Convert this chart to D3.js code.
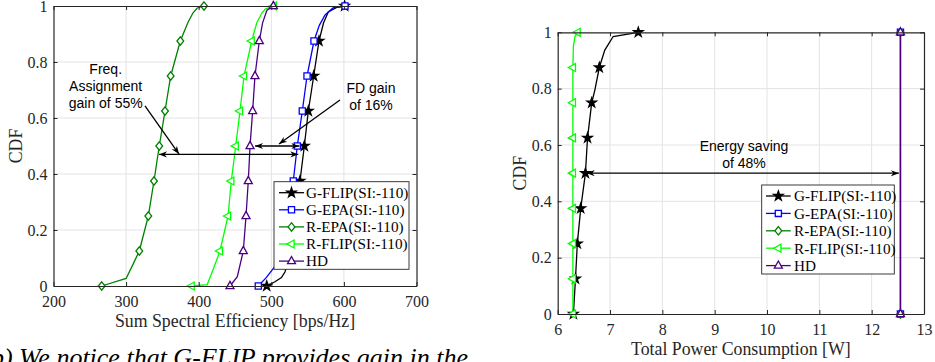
<!DOCTYPE html>
<html><head><meta charset="utf-8">
<script src="https://cdn.jsdelivr.net/npm/d3@7"></script>
<style>
html,body{margin:0;padding:0;background:#fff;}
svg{display:block;}
</style></head>
<body>
<svg id="chart" width="935" height="362"></svg>
<script>
// ---------------- DATA ----------------
const seriesNames = ["G-FLIP(SI:-110)", "G-EPA(SI:-110)", "R-EPA(SI:-110)", "R-FLIP(SI:-110)", "HD"];
const seriesColors = ["#000000", "#0000ff", "#008000", "#00ff00", "#4b0082"];
const seriesMarkers = ["star", "square", "diamond", "triangleLeft", "triangleUp"];
const markerLevels = [0, 0.125, 0.25, 0.375, 0.5, 0.625, 0.75, 0.875, 1];

// Left chart: Sum Spectral Efficiency [bps/Hz]
const leftGFLIP_x = [493.7, 505, 514, 519, 526, 532, 539.5, 545.5, 551, 558.4, 565.7, 572, 578.5, 590, 601];
const leftGFLIP_y = [0, 0.015, 0.03, 0.051, 0.125, 0.25, 0.375, 0.5, 0.625, 0.75, 0.875, 0.94, 0.979, 0.995, 1];
const leftGEPA_x = [482.1, 493, 505, 515, 524, 530.3, 535.8, 542.7, 549.2, 558.8, 566, 574, 585, 601.5];
const leftGEPA_y = [0, 0.03, 0.07, 0.125, 0.25, 0.375, 0.5, 0.625, 0.75, 0.875, 0.93, 0.968, 0.993, 1];
const leftREPA_x = [266.4, 300, 310, 318.2, 330.6, 338.4, 345.7, 353.6, 361.4, 374.7, 385, 392, 398, 407.3];
const leftREPA_y = [0, 0.027, 0.08, 0.125, 0.25, 0.375, 0.5, 0.625, 0.75, 0.875, 0.94, 0.975, 0.993, 1];
const leftRFLIP_x = [390.3, 411.8, 420, 429.3, 440.4, 444.9, 451, 456.9, 462.4, 473, 480, 487, 492, 503.5];
const leftRFLIP_y = [0, 0.005, 0.06, 0.125, 0.25, 0.375, 0.5, 0.625, 0.75, 0.875, 0.94, 0.975, 0.99, 1];
const leftHD_x = [443.1, 453.2, 461.4, 465.2, 468.3, 470.7, 474.3, 477.5, 483.5, 488, 494, 502.8];
const leftHD_y = [0, 0.033, 0.125, 0.25, 0.375, 0.5, 0.625, 0.75, 0.875, 0.94, 0.985, 1];

// Right chart: Total Power Consumption [W]
const rightGFLIP_x = [6.30, 6.34, 6.375, 6.44, 6.53, 6.57, 6.65, 6.71, 6.795, 6.90, 7.06, 7.54];
const rightGFLIP_y = [0, 0.125, 0.25, 0.375, 0.5, 0.625, 0.75, 0.795, 0.875, 0.937, 0.985, 1];
const rightGEPA_x = [12.55, 12.55];
const rightGEPA_y = [0, 1];
const rightREPA_x = [12.55, 12.55];
const rightREPA_y = [0, 1];
const rightRFLIP_x = [6.29, 6.29, 6.29, 6.29, 6.29, 6.29, 6.29, 6.29, 6.30, 6.33, 6.38];
const rightRFLIP_y = [0, 0.125, 0.25, 0.375, 0.5, 0.625, 0.75, 0.875, 0.95, 0.985, 1];
const rightHD_x = [12.55, 12.55];
const rightHD_y = [0, 1];

// Ticks
const leftXTicks = [200, 300, 400, 500, 600, 700];
const rightXTicks = [6, 7, 8, 9, 10, 11, 12, 13];
const yTicks = [0, 0.2, 0.4, 0.6, 0.8, 1];

// Labels / annotations
const leftXLabel = "Sum Spectral Efficiency [bps/Hz]";
const rightXLabel = "Total Power Consumption [W]";
const yLabel = "CDF";
const freqText = ["Freq.", "Assignment", "gain of 55%"];
const fdText = ["FD gain", "of 16%"];
const energyText = ["Energy saving", "of 48%"];
const captionText = "(b) We notice that G-FLIP provides gain in the";

// ---------------- DRAW ----------------
const svg = d3.select("#chart");
const SERIF = "'Liberation Serif','Times New Roman',serif";
const SANS = "'Liberation Sans',Arial,Helvetica,sans-serif";
const AXC = "#262626";

const defs = svg.append("defs");
defs.append("marker").attr("id", "ah").attr("viewBox", "0 0 10 10")
  .attr("refX", 10).attr("refY", 5).attr("markerWidth", 8).attr("markerHeight", 8)
  .attr("markerUnits", "userSpaceOnUse").attr("orient", "auto-start-reverse")
  .append("path").attr("d", "M0,1.2 L10,5 L0,8.8 L3,5 Z").attr("fill", "#000");

function markerPath(type) {
  if (type === "star") return d3.symbol(d3.symbolStar, 28)();
  if (type === "square") return d3.symbol(d3.symbolSquare, 38)();
  if (type === "diamond") return "M0,-4.2L3.4,0L0,4.2L-3.4,0Z";
  if (type === "triangleUp") return "M0,-4.6L4,2.6L-4,2.6Z";
  if (type === "triangleLeft") return "M-4.6,0L2.6,-4L2.6,4Z";
}

function drawPanel(cfg) {
  const x = d3.scaleLinear().domain(cfg.xDomain).range([cfg.left, cfg.right]);
  const y = d3.scaleLinear().domain([0, 1]).range([cfg.bottom, cfg.top]);
  const g = svg.append("g");

  g.append("rect").attr("x", cfg.left).attr("y", cfg.top)
    .attr("width", cfg.right - cfg.left).attr("height", cfg.bottom - cfg.top).attr("fill", "#fff");

  // grid
  g.append("g").selectAll("line").data(cfg.xTicks.slice(1, -1)).join("line")
    .attr("x1", d => x(d)).attr("x2", d => x(d)).attr("y1", cfg.top).attr("y2", cfg.bottom)
    .attr("stroke", "#e3e3e3").attr("stroke-width", 1);
  g.append("g").selectAll("line").data(yTicks.slice(1, -1)).join("line")
    .attr("y1", d => y(d)).attr("y2", d => y(d)).attr("x1", cfg.left).attr("x2", cfg.right)
    .attr("stroke", "#e3e3e3").attr("stroke-width", 1);

  // series
  const line = d3.line().x(d => x(d[0])).y(d => y(d[1]));
  cfg.series.forEach((s, i) => {
    const pts = s.xs.map((v, k) => [v, s.ys[k]]);
    g.append("path").datum(pts).attr("d", line).attr("fill", "none")
      .attr("stroke", seriesColors[i]).attr("stroke-width", 1.3);
    const mk = pts.filter(p => markerLevels.includes(p[1]) && (!s.onlyEnds || p[1] === 0 || p[1] === 1));
    g.append("g").selectAll("path").data(mk).join("path")
      .attr("transform", d => `translate(${x(d[0])},${y(d[1])})`)
      .attr("d", markerPath(seriesMarkers[i]))
      .attr("fill", seriesMarkers[i] === "star" ? seriesColors[i] : "#fff")
      .attr("stroke", seriesColors[i]).attr("stroke-width", 1.3);
  });

  // axes with inward ticks
  const tickFont = g2 => g2.selectAll("text").attr("font-family", SERIF).attr("font-size", 16).attr("fill", AXC);
  const styleAxis = a => { a.select(".domain").attr("stroke", AXC).attr("stroke-width", 1.2); a.selectAll(".tick line").attr("stroke", AXC); };
  const ax = g.append("g").attr("transform", `translate(0,${cfg.bottom})`)
    .call(d3.axisBottom(x).tickValues(cfg.xTicks).tickSize(-4).tickPadding(10).tickSizeOuter(0).tickFormat(d3.format("d")));
  styleAxis(ax); tickFont(ax);
  const axt = g.append("g").attr("transform", `translate(0,${cfg.top})`)
    .call(d3.axisTop(x).tickValues(cfg.xTicks).tickSize(-4).tickSizeOuter(0).tickFormat(""));
  styleAxis(axt);
  const ay = g.append("g").attr("transform", `translate(${cfg.left},0)`)
    .call(d3.axisLeft(y).tickValues(yTicks).tickSize(-4).tickPadding(6).tickSizeOuter(0).tickFormat(d => d === 0 || d === 1 ? d3.format("d")(d) : d3.format(".1f")(d)));
  styleAxis(ay); tickFont(ay);
  const ayr = g.append("g").attr("transform", `translate(${cfg.right},0)`)
    .call(d3.axisRight(y).tickValues(yTicks).tickSize(-4).tickSizeOuter(0).tickFormat(""));
  styleAxis(ayr);

  g.append("text").attr("x", (cfg.left + cfg.right) / 2).attr("y", cfg.xLabelY)
    .attr("text-anchor", "middle").attr("font-family", SERIF).attr("font-size", 17.8).attr("fill", AXC).text(cfg.xLabel);
  g.append("text").attr("transform", `translate(${cfg.yLabelX},${(cfg.top + cfg.bottom) / 2}) rotate(-90)`)
    .attr("text-anchor", "middle").attr("font-family", SERIF).attr("font-size", 17.8).attr("fill", AXC).text(yLabel);

  return { g, x, y };
}

function drawLegend(g, lx, ly, w, h, sampleX1, sampleX2, textX, rowY0, rowDy) {
  const lg = g.append("g");
  lg.append("rect").attr("x", lx).attr("y", ly).attr("width", w).attr("height", h)
    .attr("fill", "#fff").attr("stroke", AXC).attr("stroke-width", 0.9);
  seriesNames.forEach((n, i) => {
    const yy = rowY0 + i * rowDy;
    lg.append("line").attr("x1", sampleX1).attr("x2", sampleX2).attr("y1", yy).attr("y2", yy)
      .attr("stroke", seriesColors[i]).attr("stroke-width", 1.3);
    lg.append("path").attr("transform", `translate(${(sampleX1 + sampleX2) / 2},${yy})`)
      .attr("d", markerPath(seriesMarkers[i]))
      .attr("fill", seriesMarkers[i] === "star" ? seriesColors[i] : "#fff")
      .attr("stroke", seriesColors[i]).attr("stroke-width", 1.3);
    lg.append("text").attr("x", textX).attr("y", yy).attr("dy", "0.35em")
      .attr("font-family", SERIF).attr("font-size", 15.2).attr("fill", "#000").text(n);
  });
}

function arrow(g, x1, y1, x2, y2, both) {
  const p = g.append("line").attr("x1", x1).attr("y1", y1).attr("x2", x2).attr("y2", y2)
    .attr("stroke", "#000").attr("stroke-width", 1.3).attr("marker-end", "url(#ah)");
  if (both) p.attr("marker-start", "url(#ah)");
}

function multiText(g, cx, cy0, lines, dy) {
  lines.forEach((t, i) => {
    g.append("text").attr("x", cx).attr("y", cy0 + i * dy).attr("dy", "0.35em")
      .attr("text-anchor", "middle").attr("font-family", SANS).attr("font-size", 14).attr("fill", "#000").text(t);
  });
}

// ---- Left panel ----
const L = drawPanel({
  xDomain: [200, 700], left: 53.5, right: 416.5, top: 6, bottom: 286,
  xTicks: leftXTicks, xLabel: leftXLabel, xLabelY: 327, yLabelX: 22,
  series: [
    { xs: leftGFLIP_x, ys: leftGFLIP_y }, { xs: leftGEPA_x, ys: leftGEPA_y },
    { xs: leftREPA_x, ys: leftREPA_y }, { xs: leftRFLIP_x, ys: leftRFLIP_y },
    { xs: leftHD_x, ys: leftHD_y }
  ]
});
drawLegend(L.g, 274, 181.7, 135, 87.6, 279, 304, 306, 192.7, 17.1);
multiText(L.g, L.x(271.9), L.y(0.775), freqText, 17);
arrow(L.g, L.x(326), L.y(0.643), L.x(372.9), L.y(0.471), false);
arrow(L.g, L.x(345.3), L.y(0.47), L.x(537.2), L.y(0.47), true);
multiText(L.g, L.x(637.3), L.y(0.707), fdText, 17.5);
arrow(L.g, L.x(594.6), L.y(0.664), L.x(510.6), L.y(0.507), false);
arrow(L.g, L.x(477.7), L.y(0.5), L.x(538.6), L.y(0.5), true);

// ---- Right panel ----
const R = drawPanel({
  xDomain: [6, 13], left: 557.7, right: 924, top: 32.3, bottom: 314,
  xTicks: rightXTicks, xLabel: rightXLabel, xLabelY: 355, yLabelX: 526,
  series: [
    { xs: rightGFLIP_x, ys: rightGFLIP_y }, { xs: rightGEPA_x, ys: rightGEPA_y, onlyEnds: true },
    { xs: rightREPA_x, ys: rightREPA_y, onlyEnds: true }, { xs: rightRFLIP_x, ys: rightRFLIP_y },
    { xs: rightHD_x, ys: rightHD_y, onlyEnds: true }
  ]
});
drawLegend(R.g, 761.7, 185, 132.6, 89, 766, 790.7, 794, 196, 17.4);
multiText(R.g, R.x(9.56), R.y(0.595), energyText, 17);
arrow(R.g, R.x(6.554), R.y(0.5), R.x(12.52), R.y(0.5), true);

// caption fragment (cut off at the page edges)
svg.append("text").attr("x", 468).attr("y", 366).attr("text-anchor", "end")
  .attr("font-family", SERIF).attr("font-style", "italic").attr("font-size", 26).attr("fill", "#000")
  .text(captionText);
</script>
</body></html>
